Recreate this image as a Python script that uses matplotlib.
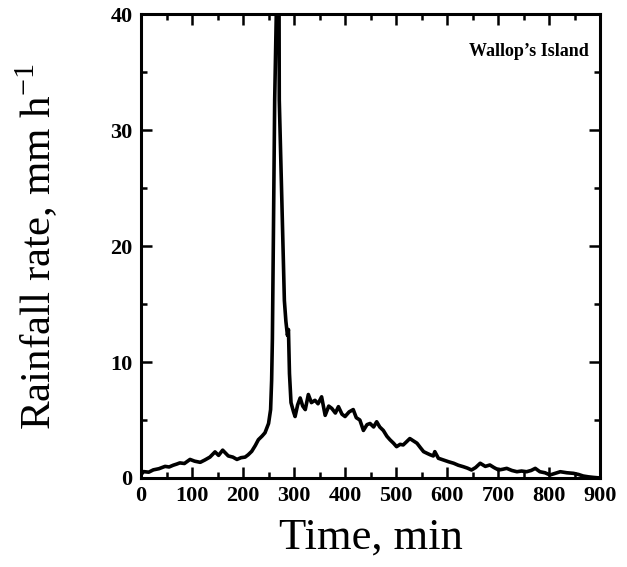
import matplotlib
matplotlib.use("Agg")
import matplotlib.pyplot as plt
from matplotlib.ticker import MultipleLocator

# rainfall rate trace (time in min, rate in mm/h)
time_min = [0, 5, 15, 24, 35, 47, 55, 63, 70, 76, 85, 96, 105, 116, 125, 135, 145,
            152, 160, 171, 180, 188, 196, 204, 210, 217, 224, 230, 237, 243, 250,
            254, 256, 257.5, 259.5, 262, 266, 268, 270.6, 271, 276, 281, 284, 287,
            289, 291, 294, 299, 302, 307, 312, 317, 322, 328, 334, 341, 347, 354,
            361, 368, 374, 381, 387, 394, 400, 408, 416, 422, 429, 436, 443, 449,
            456, 462, 468, 475, 482, 488, 495, 501, 508, 514, 520, 527, 534, 541,
            548, 554, 562, 567, 573, 576, 583, 593, 603, 613, 622, 632, 640, 648,
            656, 665, 675, 684, 692, 701, 709, 717, 727, 737, 746, 756, 765, 773,
            782, 792, 802, 812, 822, 835, 848, 858, 867, 877, 887, 900]
rain_rate = [0.3, 0.55, 0.5, 0.7, 0.8, 1.0, 0.95, 1.1, 1.2, 1.3, 1.25, 1.6, 1.45,
             1.35, 1.55, 1.8, 2.25, 1.95, 2.4, 1.9, 1.8, 1.6, 1.75, 1.8, 2.0, 2.3,
             2.8, 3.3, 3.6, 3.9, 4.7, 5.9, 8.4, 12, 21, 32.6, 42, 42, 40, 32.6, 24,
             15.3, 13.5, 12.3, 12.8, 9.0, 6.5, 5.7, 5.3, 6.3, 6.9, 6.2, 5.9, 7.2,
             6.5, 6.7, 6.4, 7.0, 5.4, 6.2, 6.0, 5.6, 6.15, 5.5, 5.3, 5.7, 5.9, 5.2,
             5.0, 4.1, 4.6, 4.7, 4.4, 4.85, 4.4, 4.1, 3.6, 3.3, 3.0, 2.7, 2.9, 2.85,
             3.1, 3.4, 3.2, 3.0, 2.6, 2.27, 2.1, 2.0, 1.9, 2.27, 1.7, 1.55, 1.4,
             1.27, 1.1, 0.97, 0.85, 0.69, 0.9, 1.27, 1.0, 1.12, 0.9, 0.69, 0.75,
             0.83, 0.65, 0.54, 0.6, 0.54, 0.65, 0.83, 0.54, 0.45, 0.26, 0.4, 0.54,
             0.45, 0.4, 0.3, 0.17, 0.1, 0.05, 0.0]

plt.rcParams['font.family'] = ['Liberation Serif', 'DejaVu Serif']
plt.rcParams['mathtext.fontset'] = 'custom'
plt.rcParams['mathtext.rm'] = 'Liberation Serif'

fig = plt.figure(figsize=(6.27, 5.67), dpi=100)
ax = fig.add_axes([0.225, 0.157, 0.732, 0.818])
ax.plot(time_min, rain_rate, color='black', linewidth=2.6)

ax.set_xlim(0, 900)
ax.set_ylim(0, 40)
ax.xaxis.set_major_locator(MultipleLocator(100))
ax.xaxis.set_minor_locator(MultipleLocator(50))
ax.yaxis.set_major_locator(MultipleLocator(10))
ax.yaxis.set_minor_locator(MultipleLocator(5))
ax.tick_params(which='both', direction='in', top=True, right=True, width=1.8)
ax.tick_params(which='major', length=8, labelsize=16, pad=6)
ax.tick_params(which='minor', length=4)
for lab in ax.get_xticklabels() + ax.get_yticklabels():
    lab.set_fontweight('bold')
for s in ax.spines.values():
    s.set_linewidth(2.2)

ax.set_xlabel('Time, min', fontsize=32, labelpad=8)
ax.set_ylabel('Rainfall rate, mm h$^{\\mathrm{-1}}$', fontsize=31, labelpad=36)
ax.text(0.975, 0.92, "Wallop\u2019s Island", transform=ax.transAxes, ha='right',
        va='center', fontsize=13, fontweight='bold')

fig.savefig('out.png', dpi=100)
